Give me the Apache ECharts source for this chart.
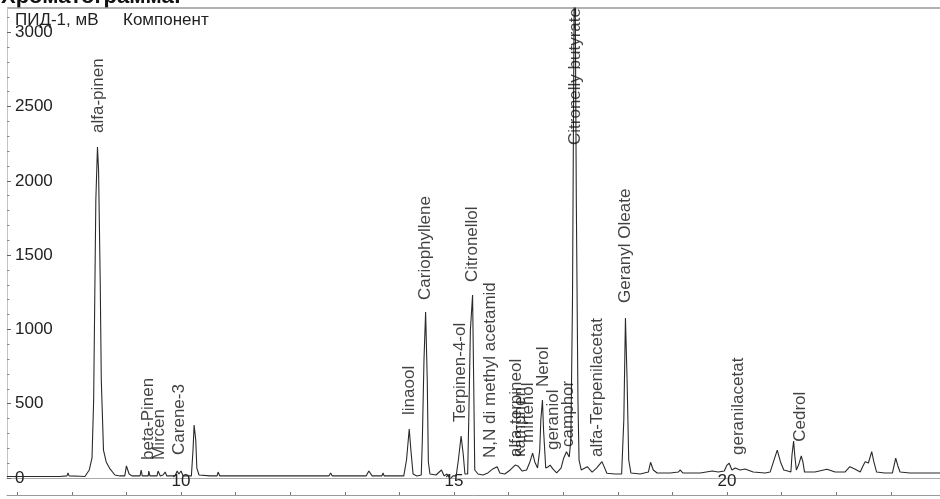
<!DOCTYPE html>
<html><head><meta charset="utf-8">
<script src="https://cdn.jsdelivr.net/npm/echarts@6/dist/echarts.min.js"></script>
<style>html,body{margin:0;padding:0;background:#fff}#c{width:940px;height:499px}</style>
</head><body><div id="c"></div>
<script>
// ---- data ----
const xLabelValues = [10, 15, 20];
const xTickValues = [7, 8, 9, 10, 11, 12, 13, 14, 15, 16, 17, 18, 19, 20, 21, 22, 23];
const yLabelValues = [0, 500, 1000, 1500, 2000, 2500, 3000];
const yMinorValues = [100, 200, 300, 400, 600, 700, 800, 900, 1100, 1200, 1300, 1400, 1600, 1700, 1800, 1900, 2100, 2200, 2300, 2400, 2600, 2700, 2800, 2900, 3100];

// retention time (min), signal (mV)
const signal = [
[6.81,10],[7.78,10],[7.91,14],[7.93,34],[7.95,14],[8.15,12],
[8.24,10],[8.32,54],[8.37,135],[8.40,525],[8.42,1198],[8.44,1871],[8.47,2227],[8.49,2073],[8.52,1332],[8.54,659],[8.58,188],[8.63,108],[8.70,61],[8.79,20],[8.88,14],
[8.97,14],[9.00,81],[9.02,94],[9.05,27],[9.10,14],
[9.25,14],[9.27,54],[9.29,14],[9.40,14],[9.41,47],[9.43,14],[9.56,14],[9.58,47],[9.62,14],[9.67,20],[9.71,40],[9.74,14],[9.89,14],[9.93,47],[9.96,27],[10.00,47],[10.04,14],
[10.19,14],[10.22,188],[10.24,357],[10.27,256],[10.29,67],[10.33,20],
[10.53,14],[10.66,14],[10.68,40],[10.71,14],[11.08,14],[12.18,14],
[12.71,14],[12.74,34],[12.77,14],[13.19,14],[13.22,27],[13.26,14],[13.39,14],[13.44,47],[13.50,14],[13.68,14],[13.70,34],[13.72,14],
[14.08,14],[14.13,121],[14.18,330],[14.21,188],[14.25,27],[14.32,14],
[14.40,20],[14.42,256],[14.45,794],[14.48,1117],[14.51,659],[14.53,108],[14.56,27],
[14.67,20],[14.77,54],[14.82,14],[14.87,27],[14.93,-7],[14.98,14],
[15.04,14],[15.08,121],[15.13,283],[15.17,155],[15.20,27],
[15.25,27],[15.27,390],[15.30,996],[15.34,1231],[15.36,659],[15.38,54],
[15.44,27],[15.53,20],[15.62,34],[15.71,61],[15.79,76],[15.84,34],[15.93,27],[16.03,54],[16.12,87],[16.17,81],[16.25,47],[16.33,54],[16.39,108],[16.44,168],[16.48,108],[16.53,67],
[16.57,188],[16.59,390],[16.62,525],[16.64,323],[16.68,67],[16.72,74],[16.76,87],[16.81,61],[16.88,34],[16.96,67],[17.01,135],[17.06,177],[17.11,141],
[17.14,256],[17.17,1198],[17.19,2544],[17.21,3900],[17.24,1871],[17.27,525],[17.29,121],[17.33,54],[17.44,76],[17.53,40],[17.61,67],[17.71,110],[17.80,32],[17.95,27],
[18.07,27],[18.11,390],[18.14,1077],[18.17,659],[18.20,121],[18.24,34],
[18.41,27],[18.56,40],[18.60,106],[18.65,54],[18.72,34],
[18.96,34],[19.11,40],[19.14,54],[19.19,34],
[19.51,34],[19.73,47],[19.84,40],[19.95,47],[20.00,87],[20.04,99],[20.09,54],[20.15,67],[20.24,54],[20.33,61],[20.48,40],[20.70,34],
[20.79,40],[20.85,108],[20.92,188],[20.98,108],[21.04,54],[21.11,47],
[21.17,40],[21.19,155],[21.22,249],[21.24,155],[21.27,54],[21.31,87],[21.36,148],[21.39,108],[21.42,40],
[21.61,40],[21.83,59],[21.98,40],[22.16,40],[22.25,76],[22.34,61],[22.44,40],[22.49,81],[22.53,110],[22.59,101],[22.65,177],[22.69,108],[22.74,40],[22.89,34],
[23.03,34],[23.09,133],[23.13,81],[23.17,40],[23.35,34],[23.90,34]
];

const peakNames = ['alfa-pinen','beta-Pinen','Mircen','Carene-3','linaool','Cariophyllene','Terpinen-4-ol','Citronellol','N,N di methyl acetamid','alfa-terpineol','kamphen','mirtenol','Nerol','geraniol','camphor','Citronelly butyrate','alfa-Terpenilacetat','Geranyl Oleate','geranilacetat','Cedrol'];
const peakTimes = [8.48, 9.40, 9.60, 9.96, 14.19, 14.47, 15.11, 15.33, 15.66, 16.15, 16.21, 16.36, 16.63, 16.81, 17.09, 17.22, 17.62, 18.13, 20.20, 21.34];
const peakLabelValues = [2322, 121, 121, 155, 424, 1198, 377, 1319, 135, 141, 141, 236, 612, 188, 209, 2241, 141, 1178, 155, 244];

// ---- chart ----
const FONT = '"Liberation Sans", Arial, sans-serif';
const xMin = 6.813, xMax = 23.901, yMax = 3163;
const chart = echarts.init(document.getElementById('c'), null, {renderer: 'canvas'});
chart.setOption({
  animation: false,
  backgroundColor: '#fff',
  grid: [
    {left: 7, right: 0, top: 8, bottom: 21},
    {left: 7, right: 0, top: 8, bottom: 4}
  ],
  xAxis: [
    {type: 'value', gridIndex: 0, min: xMin, max: xMax,
     axisLine: {show: true, lineStyle: {color: '#aaa', width: 1.2}},
     axisTick: {show: false}, splitLine: {show: false},
     axisLabel: {customValues: xLabelValues, margin: -5, fontSize: 17, color: '#222', fontFamily: FONT,
       formatter: v => String(v)}},
    {type: 'value', gridIndex: 1, min: xMin, max: xMax,
     axisLine: {show: true, lineStyle: {color: '#999', width: 1}},
     axisTick: {show: true, inside: true, length: 3, customValues: xTickValues, lineStyle: {color: '#777'}},
     axisLabel: {show: false}, splitLine: {show: false}}
  ],
  yAxis: [
    {type: 'value', gridIndex: 0, position: 'left', min: 0, max: yMax,
     axisLine: {show: true, lineStyle: {color: '#c4c4c4', width: 1}},
     axisTick: {show: true, inside: true, length: 4, customValues: yLabelValues, lineStyle: {color: '#666'}},
     axisLabel: {inside: true, margin: 8, customValues: yLabelValues, fontSize: 17, color: '#222', fontFamily: FONT,
       formatter: v => String(v)},
     splitLine: {show: false}},
    {type: 'value', gridIndex: 0, position: 'left', offset: 0, min: 0, max: yMax,
     axisLine: {show: false},
     axisTick: {show: true, inside: true, length: 2.5, customValues: yMinorValues, lineStyle: {color: '#888'}},
     axisLabel: {show: false}, splitLine: {show: false}},
    {type: 'value', gridIndex: 1, min: 0, max: 1, show: false}
  ],
  series: [
    {type: 'line', xAxisIndex: 0, yAxisIndex: 0, data: signal, showSymbol: false, symbol: 'none',
     lineStyle: {color: '#2a2a2a', width: 1.1}, clip: true, silent: true, z: 3},
    {type: 'scatter', xAxisIndex: 0, yAxisIndex: 0, symbolSize: 1, silent: true, z: 5,
     itemStyle: {color: 'rgba(0,0,0,0)'},
     data: peakTimes.map((t, i) => [t, peakLabelValues[i]]),
     label: {show: true, position: 'inside', rotate: 90, align: 'left', verticalAlign: 'middle',
       formatter: p => peakNames[p.dataIndex], fontSize: 17, color: '#111', fontFamily: FONT}}
  ],
  graphic: [
    {type: 'text', x: 1, y: 8, silent: true,
     style: {text: 'Хроматограмма:', font: 'bold 22px ' + FONT, fill: '#111', align: 'left', verticalAlign: 'bottom', textAlign: 'left', textVerticalAlign: 'bottom'}},
    {type: 'line', silent: true, shape: {x1: 7, y1: 8, x2: 940, y2: 8}, style: {stroke: '#999', lineWidth: 1.5}},
    {type: 'text', x: 15, y: 20, silent: true,
     style: {text: 'ПИД-1, мВ', font: '17px ' + FONT, fill: '#222', align: 'left', verticalAlign: 'middle', textAlign: 'left', textVerticalAlign: 'middle'}},
    {type: 'text', x: 123, y: 20, silent: true,
     style: {text: 'Компонент', font: '17px ' + FONT, fill: '#222', align: 'left', verticalAlign: 'middle', textAlign: 'left', textVerticalAlign: 'middle'}}
  ]
});
</script>
</body></html>
